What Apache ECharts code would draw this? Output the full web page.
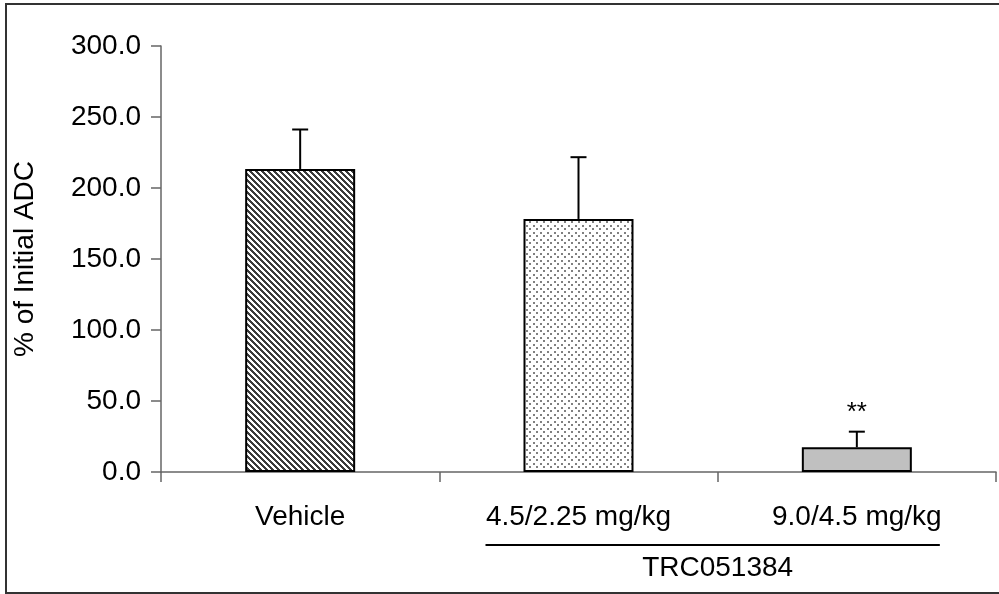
<!DOCTYPE html>
<html>
<head>
<meta charset="utf-8">
<script src="https://cdn.jsdelivr.net/npm/echarts@6/dist/echarts.min.js"></script>
<style>
  html, body { margin: 0; padding: 0; background: #fff; }
  #chart { width: 999px; height: 594px; }
</style>
</head>
<body>
<div id="chart"></div>
<script>
// data
const categories = ['Vehicle', '4.5/2.25 mg/kg', '9.0/4.5 mg/kg'];
const means = [213.4, 178.2, 17.4];
const errors = [27.8, 43.5, 11.0];
const sigMarks = ['', '', '**'];
const yTicks = { min: 0, max: 300, step: 50 };
const groupLabel = 'TRC051384';

const FONT = '"Liberation Sans", Arial, sans-serif';
const FS = 28;

// fill patterns for the bars
function stripeTile() {
  const c = document.createElement('canvas');
  c.width = 6; c.height = 6;
  const ctx = c.getContext('2d');
  const img = ctx.createImageData(6, 6);
  for (let y = 0; y < 6; y++) {
    for (let x = 0; x < 6; x++) {
      const d = ((x - y) % 6 + 6) % 6;
      const v = d < 3 ? 60 : 255;
      const i = (y * 6 + x) * 4;
      img.data[i] = v; img.data[i + 1] = v; img.data[i + 2] = v; img.data[i + 3] = 255;
    }
  }
  ctx.putImageData(img, 0, 0);
  return c;
}

function dotTile() {
  const c = document.createElement('canvas');
  c.width = 7; c.height = 7;
  const ctx = c.getContext('2d');
  ctx.fillStyle = '#fff';
  ctx.fillRect(0, 0, 7, 7);
  ctx.fillStyle = '#808080';
  ctx.fillRect(1, 1, 2, 2);
  ctx.fillRect(4, 4, 2, 2);
  return c;
}

const fills = [
  { image: stripeTile(), repeat: 'repeat' },
  { image: dotTile(), repeat: 'repeat' },
  '#c0c0c0'
];

const chart = echarts.init(document.getElementById('chart'));

chart.setOption({
  animation: false,
  grid: { left: 161, right: 3, top: 46, bottom: 122 },
  xAxis: {
    type: 'category',
    data: categories,
    axisLine: { lineStyle: { color: '#666', width: 1.5 } },
    axisTick: { show: true, length: 10, lineStyle: { color: '#666', width: 1.5 } },
    axisLabel: { color: '#000', fontFamily: FONT, fontSize: FS, margin: 31 }
  },
  yAxis: {
    type: 'value',
    min: yTicks.min, max: yTicks.max, interval: yTicks.step,
    name: '% of Initial ADC',
    nameLocation: 'middle',
    nameGap: 122,
    nameTextStyle: { color: '#000', fontFamily: FONT, fontSize: FS },
    axisLine: { show: true, lineStyle: { color: '#666', width: 1.5 } },
    axisTick: { show: true, length: 10, lineStyle: { color: '#666', width: 1.5 } },
    axisLabel: {
      color: '#000', fontFamily: FONT, fontSize: FS, margin: 20,
      formatter: v => v.toFixed(1)
    },
    splitLine: { show: false }
  },
  series: [
    {
      type: 'bar',
      barWidth: 110,
      data: means.map((v, i) => ({
        value: v,
        itemStyle: { color: fills[i], borderColor: '#000', borderWidth: 2 }
      }))
    },
    {
      type: 'custom',
      z: 5,
      data: means.map((v, i) => [i, v, errors[i], sigMarks[i]]),
      renderItem: function (params, api) {
        const i = api.value(0);
        const base = api.coord([i, api.value(1)]);
        const top = api.coord([i, api.value(1) + api.value(2)]);
        const children = [
          { type: 'line', shape: { x1: top[0], y1: base[1], x2: top[0], y2: top[1] },
            style: { stroke: '#000', lineWidth: 2 } },
          { type: 'line', shape: { x1: top[0] - 8, y1: top[1], x2: top[0] + 8, y2: top[1] },
            style: { stroke: '#000', lineWidth: 2 } }
        ];
        const mark = sigMarks[params.dataIndex];
        if (mark) {
          children.push({
            type: 'text',
            style: { text: mark, x: top[0], y: top[1] - 6, align: 'center', verticalAlign: 'bottom',
              fill: '#000', font: '26px ' + FONT }
          });
        }
        return { type: 'group', children: children };
      }
    }
  ]
});

// bracket under the two TRC051384 doses
const c1 = chart.convertToPixel({ xAxisIndex: 0 }, categories[1]);
const c2 = chart.convertToPixel({ xAxisIndex: 0 }, categories[2]);
chart.setOption({
  graphic: [
    { type: 'rect', shape: { x: 6, y: 4, width: 1010, height: 589 },
      style: { fill: 'none', stroke: '#333', lineWidth: 2 } },
    { type: 'line', shape: { x1: c1 - 93, y1: 545, x2: c2 + 83, y2: 545 },
      style: { stroke: '#000', lineWidth: 2 } },
    { type: 'text', x: (c1 + c2) / 2, y: 568,
      style: { text: groupLabel, align: 'center', verticalAlign: 'middle',
        fill: '#000', font: FS + 'px ' + FONT } }
  ]
});
</script>
</body>
</html>
